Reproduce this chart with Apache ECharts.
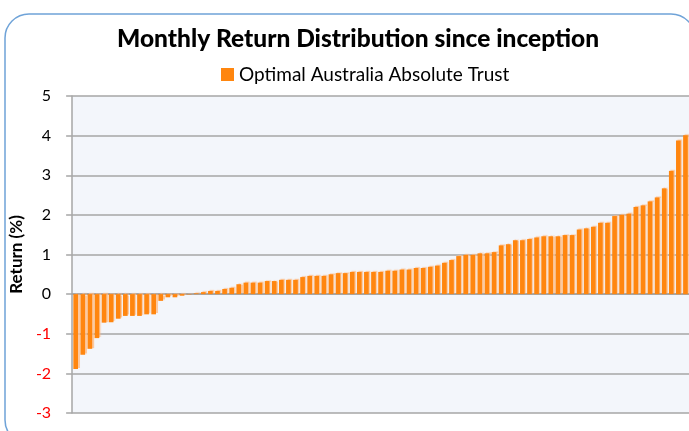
<!DOCTYPE html>
<html>
<head>
<meta charset="utf-8">
<script src="https://cdn.jsdelivr.net/npm/echarts@6/dist/echarts.min.js"></script>
<style>html,body{margin:0;padding:0;background:#fff;}#c{width:689px;height:431px;}</style>
</head>
<body>
<div id="c"></div>
<script>
var titleText = 'Monthly Return Distribution since inception';
var seriesName = 'Optimal Australia Absolute Trust';
var yAxisName = 'Return (%)';
var returns = [-1.89,-1.53,-1.38,-1.11,-0.72,-0.71,-0.62,-0.55,-0.55,-0.55,-0.51,-0.51,-0.17,-0.08,-0.08,-0.04,-0.01,0.02,0.05,0.08,0.08,0.13,0.16,0.25,0.29,0.29,0.29,0.33,0.33,0.36,0.36,0.36,0.43,0.46,0.46,0.46,0.50,0.53,0.53,0.56,0.56,0.56,0.56,0.56,0.59,0.59,0.62,0.62,0.66,0.66,0.69,0.72,0.79,0.86,0.96,0.99,0.99,1.03,1.03,1.06,1.23,1.26,1.36,1.36,1.39,1.43,1.46,1.46,1.46,1.49,1.49,1.63,1.66,1.70,1.80,1.80,1.97,2.00,2.03,2.20,2.24,2.34,2.44,2.67,3.11,3.88,4.01];
var categories = returns.map(function(_, i){ return String(i + 1); });
var yMin = -3, yMax = 5, yStep = 1;

var chart = echarts.init(document.getElementById('c'), null, {renderer:'canvas'});
var font = 'Lato, "Noto Sans", sans-serif';
chart.setOption({
  backgroundColor: '#ffffff',
  animation: false,
  graphic: [{
    type: 'rect', z: -1,
    shape: {x: 5, y: 14, width: 690, height: 430, r: 24},
    style: {fill: '#ffffff', stroke: '#6FA3D8', lineWidth: 1.5}
  }],
  title: {
    text: titleText, left: 112, top: 22,
    textStyle: {fontFamily: font, fontWeight: 900, fontSize: 24.5, color: '#000'}
  },
  legend: {
    data: [seriesName], top: 60, left: 216,
    icon: 'rect', itemWidth: 13, itemHeight: 13, itemGap: 7,
    textStyle: {fontFamily: font, fontSize: 19, color: '#000'}
  },
  grid: {
    left: 71, top: 96, width: 620, height: 317,
    show: true, backgroundColor: '#F3F6FB', borderWidth: 0
  },
  xAxis: {
    type: 'category', data: categories, boundaryGap: true,
    axisLine: {show: true, onZero: true, lineStyle: {color: '#A6A6A6', width: 2}},
    axisTick: {show: false}, axisLabel: {show: false}, splitLine: {show: false}
  },
  yAxis: {
    type: 'value', min: yMin, max: yMax, interval: yStep,
    name: yAxisName, nameLocation: 'middle', nameGap: 46, nameRotate: 90,
    nameTextStyle: {fontFamily: font, fontWeight: 'bold', fontSize: 17, color: '#000'},
    axisLine: {show: true, lineStyle: {color: '#A6A6A6', width: 1.5}},
    axisTick: {show: true, length: 6, lineStyle: {color: '#A6A6A6', width: 1.5}},
    axisLabel: {
      margin: 21, fontFamily: font, fontSize: 16,
      color: function(v){ return Number(v) < 0 ? '#FF0000' : '#000000'; }
    },
    splitLine: {show: true, lineStyle: {color: '#A6A6A6', width: 1.5}}
  },
  series: [{
    name: seriesName, type: 'bar', data: returns, barWidth: '66%',
    itemStyle: {
      color: '#FF860F',
      shadowColor: 'rgba(255,185,130,0.75)', shadowOffsetX: 1.5, shadowOffsetY: -1, shadowBlur: 1
    }
  }]
});
</script>
</body>
</html>
